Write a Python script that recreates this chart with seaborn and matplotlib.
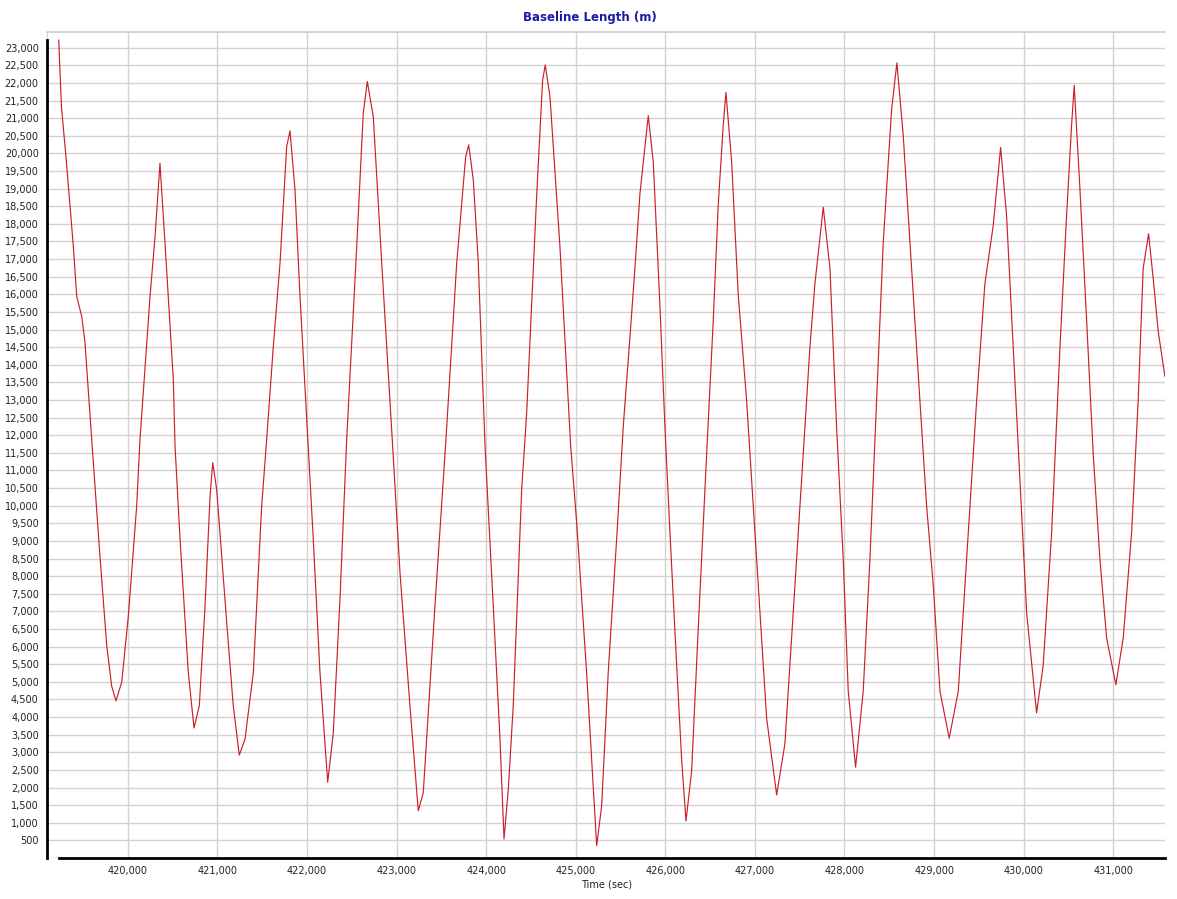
import numpy as np
import pandas as pd
import matplotlib
matplotlib.use("Agg")
import matplotlib.pyplot as plt
import seaborn as sns
from matplotlib.ticker import MultipleLocator, FuncFormatter

# values (time in sec, baseline length in m)
time_sec = [
    419230, 419260, 419311, 419393, 419431, 419487, 419523, 419598, 419690, 419766,
    419821, 419869, 419933, 420007, 420100, 420137, 420249, 420305, 420360, 420416,
    420509, 420528, 420584, 420676, 420740, 420799, 420863, 420919, 420949, 420993,
    421105, 421178, 421245, 421309, 421402, 421495, 421551, 421625, 421700, 421774,
    421811, 421867, 421923, 422016, 422071, 422146, 422232, 422295, 422369, 422444,
    422556, 422629, 422674, 422741, 422835, 422957, 423039, 423150, 423243, 423299,
    423429, 423552, 423672, 423772, 423806, 423857, 423913, 423988, 424080, 424155,
    424200, 424248, 424303, 424397, 424453, 424564, 424631, 424660, 424713, 424824,
    424944, 425011, 425122, 425234, 425290, 425363, 425457, 425531, 425606, 425661,
    425717, 425773, 425810, 425866, 425940, 425996, 426052, 426127, 426183, 426231,
    426294, 426368, 426462, 426535, 426591, 426647, 426677, 426741, 426814, 426908,
    426982, 427056, 427131, 427243, 427335, 427428, 427540, 427614, 427670, 427763,
    427838, 427912, 427986, 428042, 428124, 428209, 428284, 428359, 428433, 428526,
    428585, 428656, 428767, 428842, 428917, 428991, 429066, 429169, 429270, 429363,
    429475, 429567, 429660, 429743, 429809, 429883, 429958, 430033, 430144, 430218,
    430312, 430405, 430479, 430535, 430564, 430628, 430703, 430776, 430851, 430926,
    431029, 431111, 431205, 431278, 431334, 431394, 431446, 431502, 431577,
]
baseline_m = [
    23220, 21330, 19900, 17360, 15940, 15370, 14630, 11880, 8570, 6020,
    4880, 4460, 4990, 6870, 9990, 11880, 15940, 17640, 19720, 17460,
    13580, 11690, 9050, 5270, 3690, 4320, 7150, 10270, 11220, 10460,
    6680, 4320, 2920, 3370, 5260, 9990, 11880, 14520, 16890, 20190,
    20640, 18970, 15940, 11600, 9050, 5260, 2150, 3560, 7340, 11880,
    17360, 21140, 22040, 21040, 16890, 11690, 8100, 4320, 1340, 1860,
    7150, 11880, 16890, 19910, 20240, 19250, 16890, 11690, 7150, 3370,
    540, 1960, 4320, 10460, 12640, 18780, 22080, 22510, 21610, 17360,
    11690, 9520, 5260, 350, 1480, 5260, 9050, 12250, 14800, 16740,
    18850, 20200, 21070, 19750, 15690, 12230, 9240, 5470, 2780, 1050,
    2470, 6520, 11480, 15240, 18540, 20810, 21730, 19750, 15990, 12980,
    9980, 6970, 3970, 1790, 3240, 6970, 11480, 14490, 16300, 18470,
    16740, 12230, 8480, 4730, 2580, 4730, 8480, 12980, 17490, 21250,
    22570, 20500, 15990, 12980, 9980, 7740, 4730, 3400, 4730, 8480,
    12980, 16300, 17950, 20170, 18240, 14490, 10740, 6970, 4120, 5470,
    9240, 14490, 18240, 20810, 21930, 18990, 15240, 11480, 8480, 6240,
    4920, 6240, 9240, 12980, 16740, 17720, 16440, 14940, 13660,
]

df = pd.DataFrame({"Time (sec)": time_sec, "Baseline Length (m)": baseline_m})

sns.set_style("white")
plt.rcParams["font.family"] = ["DejaVu Sans"]

fig = plt.figure(figsize=(11.77, 8.99), dpi=100)
ax = fig.add_axes([0.040, 0.0456, 0.950, 0.9188])

sns.lineplot(data=df, x="Time (sec)", y="Baseline Length (m)", ax=ax,
             color="#cc1f2a", linewidth=0.85, estimator=None, sort=False)

ax.set_xlim(419100, 431580)
ax.set_ylim(0, 23445)

ax.xaxis.set_major_locator(MultipleLocator(1000))
ax.xaxis.set_minor_locator(MultipleLocator(200))
ax.yaxis.set_major_locator(MultipleLocator(500))
ax.yaxis.set_minor_locator(MultipleLocator(100))
ax.xaxis.set_major_formatter(FuncFormatter(lambda v, p: f"{int(v):,}"))
ax.yaxis.set_major_formatter(FuncFormatter(lambda v, p: f"{int(v):,}" if v > 0 else ""))

ax.grid(True, which="major", color="#d2d2d2", linewidth=1.0)
ax.set_axisbelow(True)

ax.tick_params(axis="both", which="major", labelsize=7, colors="#222222",
               length=3, width=0.8, pad=3)
ax.tick_params(axis="both", which="minor", length=2.5, width=0.6, colors="#222222")

ax.spines["top"].set_color("#cccccc")
ax.spines["top"].set_linewidth(1.2)
ax.spines["right"].set_visible(False)
ax.spines["left"].set_color("black")
ax.spines["left"].set_linewidth(2)
ax.spines["left"].set_bounds(0, 23220)
ax.spines["bottom"].set_color("black")
ax.spines["bottom"].set_linewidth(2)
ax.spines["bottom"].set_bounds(419230, 431580)
ax.axvline(419100, color="#cccccc", linewidth=1.2, zorder=0)

ax.set_xlabel("Time (sec)", fontsize=7, color="#222222", labelpad=2)
ax.set_ylabel("")
fig.text(0.501, 0.981, "Baseline Length (m)", ha="center", va="center",
         fontsize=8.5, fontweight="bold", color="#1a1aa6")

fig.savefig("out.png", dpi=100, facecolor="white")
